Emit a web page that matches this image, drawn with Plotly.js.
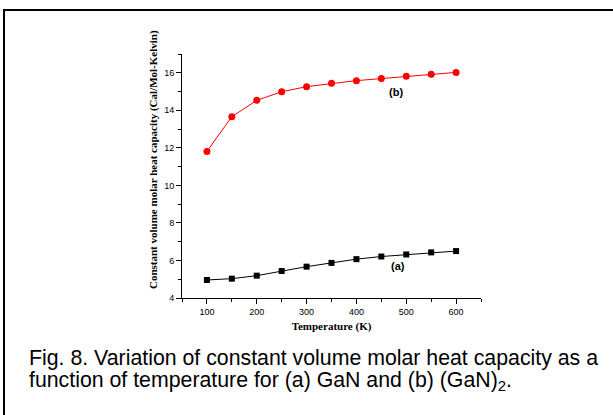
<!DOCTYPE html>
<html><head><meta charset="utf-8">
<script src="https://cdn.plot.ly/plotly-3.0.1.min.js"></script>
<style>html,body{margin:0;padding:0;background:#fff}#chart{width:613px;height:415px}</style>
</head><body><div id="chart"></div>
<script>
const temperature = [100,150,200,250,300,350,400,450,500,550,600];
const cvGaN = [4.96,5.03,5.19,5.44,5.67,5.87,6.07,6.21,6.32,6.43,6.50];
const cvGaN2 = [11.81,13.66,14.53,14.99,15.26,15.44,15.58,15.69,15.81,15.92,16.02];
const xTicks = [100,200,300,400,500,600];
const yTicks = [4,6,8,10,12,14,16];

const L=182, R=481, T=54, B=298, W=613, H=415;
const px = x => (x - L) / (R - L);
const py = y => (B - y) / (B - T);

const data = [
  {x: temperature, y: cvGaN, mode:'lines+markers', type:'scatter',
   line:{color:'#000', width:1}, marker:{symbol:'square', size:6, color:'#000'}},
  {x: temperature, y: cvGaN2, mode:'lines+markers', type:'scatter',
   line:{color:'#ff0000', width:1}, marker:{symbol:'circle', size:7, color:'#ff0000'}}
];
const serif = 'Liberation Serif, Times New Roman, serif';
const sans = 'Liberation Sans, Arial, sans-serif';
const layout = {
  width:W, height:H, showlegend:false,
  paper_bgcolor:'#fff', plot_bgcolor:'#fff',
  margin:{l:L, r:W-R, t:T, b:H-B, pad:0},
  xaxis:{range:[50,650], tickvals:xTicks, ticks:'outside', ticklen:5, tickwidth:1, tickcolor:'#000',
    showline:true, linecolor:'#000', linewidth:1, showgrid:false, zeroline:false,
    minor:{dtick:50, tick0:50, ticks:'outside', ticklen:3, tickcolor:'#000', showgrid:false},
    tickfont:{family:sans, size:9, color:'#000'},
    title:{text:'<b>Temperature (K)</b>', font:{family:serif, size:11, color:'#000'}, standoff:6}},
  yaxis:{range:[4,17], tickvals:yTicks, ticks:'outside', ticklen:5, tickwidth:1, tickcolor:'#000',
    showline:true, linecolor:'#000', linewidth:1, showgrid:false, zeroline:false,
    minor:{dtick:1, tick0:0, ticks:'outside', ticklen:3, tickcolor:'#000', showgrid:false},
    tickfont:{family:sans, size:9, color:'#000'}},
  annotations:[
    {x:px(153), y:py(160), xref:'paper', yref:'paper', textangle:-90, xanchor:'center', yanchor:'middle',
     text:'<b>Constant volume molar heat capacity (Cal/Mol-Kelvin)</b>', showarrow:false,
     font:{family:serif, size:11, color:'#000'}},
    {x:480, y:14.97, xref:'x', yref:'y', text:'<b>(b)</b>', showarrow:false, font:{family:sans, size:11, color:'#000'}},
    {x:484, y:5.7, xref:'x', yref:'y', text:'<b>(a)</b>', showarrow:false, font:{family:sans, size:11, color:'#000'}},
    {x:px(27), y:py(358), xref:'paper', yref:'paper', xanchor:'left', yanchor:'middle', align:'left',
     text:'Fig. 8. Variation of constant volume molar heat capacity as a',
     showarrow:false, font:{family:sans, size:21.3, color:'#000'}},
    {x:px(27), y:py(381), xref:'paper', yref:'paper', xanchor:'left', yanchor:'middle', align:'left',
     text:'function of temperature for (a) GaN and (b) (GaN)<sub>2</sub>.',
     showarrow:false, font:{family:sans, size:21.3, color:'#000'}}
  ],
  shapes:[
    {type:'line', xref:'paper', yref:'paper', x0:px(3), x1:px(613), y0:py(10), y1:py(10), line:{color:'#000', width:2}},
    {type:'line', xref:'paper', yref:'paper', x0:px(4), x1:px(4), y0:py(10), y1:py(415), line:{color:'#000', width:2}}
  ]
};
Plotly.newPlot('chart', data, layout, {displayModeBar:false, staticPlot:true});
</script></body></html>
